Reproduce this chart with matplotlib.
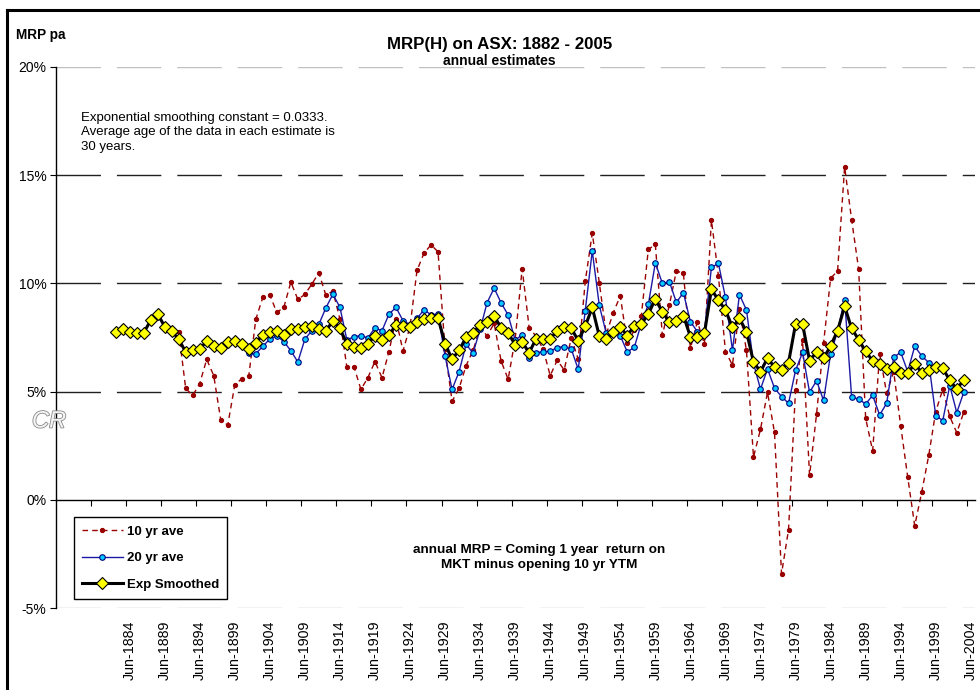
import numpy as np
import matplotlib.pyplot as plt
import matplotlib.patheffects as pe
from matplotlib.lines import Line2D

plt.rcParams['font.family'] = ['Liberation Sans', 'DejaVu Sans']

nan = np.nan

# one estimate per year, Jun-1882 .. Jun-2003
years = np.arange(1882, 2004)

exp_smoothed = [
    7.77, 7.89, 7.74, 7.71, 7.71, 8.29, 8.60, 8.00, 7.80, 7.42,
    6.83, 6.92, 6.98, 7.32, 7.12, 7.03, 7.28, 7.34, 7.22, 6.97,
    7.26, 7.63, 7.77, 7.78, 7.63, 7.91, 7.89, 8.00, 8.03, 7.88,
    7.82, 8.25, 7.92, 7.20, 7.06, 7.02, 7.22, 7.58, 7.37, 7.60,
    8.09, 8.05, 7.98, 8.23, 8.34, 8.38, 8.40, 7.22, 6.50, 6.90,
    7.51, 7.71, 8.09, 8.20, 8.49, 7.95, 7.71, 7.17, 7.28, 6.80,
    7.45, 7.45, 7.45, 7.80, 7.97, 7.92, 7.36, 8.02, 8.89, 7.57,
    7.42, 7.75, 7.98, 7.58, 8.05, 8.12, 8.58, 9.28, 8.68, 8.22,
    8.25, 8.51, 7.54, 7.54, 7.69, 9.72, 9.23, 8.77, 7.97, 8.38,
    7.77, 6.37, 5.92, 6.55, 6.13, 6.02, 6.34, 8.12, 8.12, 6.43,
    6.83, 6.54, 7.11, 7.82, 8.94, 7.92, 7.40, 6.86, 6.42, 6.26,
    6.06, 6.15, 5.88, 5.85, 6.29, 5.88, 6.00, 6.15, 6.08, 5.52,
    5.12, 5.54,
]

ten_yr = [nan] * 9 + [
    7.77, 5.15, 4.82, 5.37, 6.49, 5.74, 3.70, 3.45, 5.30, 5.60,
    5.72, 8.34, 9.35, 9.46, 8.66, 8.89, 10.06, 9.26, 9.49, 9.97,
    10.49, 9.45, 9.65, 8.35, 6.12, 6.15, 5.10, 5.65, 6.39, 5.64,
    6.85, 8.35, 6.88, 8.00, 10.60, 11.40, 11.78, 11.46, 6.95, 4.55,
    5.15, 6.20, 6.90, 7.95, 7.58, 8.15, 6.41, 5.57, 7.42, 10.68,
    7.95, 7.55, 6.96, 5.74, 6.45, 6.00, 7.48, 6.50, 10.09, 12.32,
    10.04, 7.65, 8.65, 9.42, 7.23, 7.85, 8.50, 11.57, 11.80, 7.60,
    9.00, 10.58, 10.46, 7.00, 8.23, 7.20, 12.92, 10.34, 6.85, 6.23,
    8.80, 6.90, 1.97, 3.26, 4.97, 3.11, -3.42, -1.38, 5.09, 7.38,
    1.13, 3.97, 7.25, 10.23, 10.58, 15.38, 12.95, 10.66, 3.77, 2.26,
    6.74, 4.92, 5.92, 3.42, 1.05, -1.20, 0.35, 2.05, 4.08, 5.10,
    3.85, 3.10, 4.05,
]

twenty_yr = [nan] * 19 + [
    6.77, 6.75, 7.09, 7.43, 7.57, 7.31, 6.89, 6.37, 7.42, 7.82,
    8.11, 8.87, 9.50, 8.90, 7.38, 7.54, 7.58, 7.48, 7.95, 7.81,
    8.58, 8.89, 8.28, 8.10, 8.38, 8.78, 8.55, 8.58, 6.65, 5.10,
    5.92, 7.18, 6.78, 7.88, 9.11, 9.78, 9.10, 8.54, 7.38, 7.62,
    6.54, 6.80, 6.84, 6.87, 7.03, 7.08, 6.97, 6.03, 8.74, 11.50,
    8.99, 7.69, 7.72, 7.58, 6.83, 7.05, 8.15, 9.03, 10.95, 10.00,
    10.08, 9.12, 9.57, 8.23, 7.77, 7.77, 10.74, 10.92, 9.35, 6.91,
    9.48, 8.77, 6.31, 5.11, 6.05, 5.16, 4.77, 4.46, 5.98, 6.81,
    4.97, 5.50, 4.59, 6.74, 7.80, 9.25, 4.75, 4.65, 4.43, 4.82,
    3.92, 4.46, 6.58, 6.82, 5.92, 7.09, 6.65, 6.34, 3.89, 3.66,
    5.28, 4.03, 4.97,
]

label_years = list(range(1884, 2005, 5))
label_text = ['Jun-%d' % y for y in label_years]
y_ticks = [-5, 0, 5, 10, 15, 20]

W, H = 980, 690
fig = plt.figure(figsize=(W / 100, H / 100), dpi=100)
ax = fig.add_axes([56 / W, 1 - 608 / H, (975 - 56) / W, (608 - 67) / H])

# dashed horizontal grid, the outer two are light grey
for v in y_ticks:
    if v == 0:
        continue
    col = '#c0c0c0' if v in (20, -5) else '#202020'
    ax.axhline(v, color=col, lw=1, ls=(0, (32, 11.5)), zorder=0)

ax.plot(years, ten_yr, color='#990000', lw=1, ls=(0, (4, 3)),
        marker='o', ms=2.8, mfc='#990000', mec='#990000', label='10 yr ave')
ax.plot(years, twenty_yr, color='#1a1aa6', lw=1,
        marker='o', ms=4, mfc='#00ccff', mec='#000080', mew=0.8, label='20 yr ave')
ax.plot(years, exp_smoothed, color='black', lw=2.2,
        marker='D', ms=6, mfc='#ffff00', mec='black', mew=0.8, label='Exp Smoothed')

ax.set_xlim(1873.5, 2004.6)
ax.set_ylim(-5, 20)

for s in ('top', 'right'):
    ax.spines[s].set_visible(False)
ax.spines['bottom'].set_position(('data', 0))
ax.spines['bottom'].set_linewidth(1)
ax.spines['left'].set_linewidth(1)

ax.set_xticks(np.arange(1878.5, 2004, 5))
ax.tick_params(axis='x', direction='out', length=4, width=0.8, labelbottom=False)
ax.set_yticks(y_ticks, labels=['%d%%' % v for v in y_ticks])
ax.tick_params(axis='y', direction='out', length=4, width=0.8, pad=3, labelsize=10)

sec = ax.secondary_xaxis('bottom')
sec.set_xticks(label_years, labels=label_text, rotation=90)
sec.tick_params(length=0, pad=9, labelsize=10.3)
sec.spines['bottom'].set_visible(False)

fig.text(16 / W, 1 - 35 / H, 'MRP pa', weight='bold', fontsize=9.8, va='center')
fig.text(500 / W, 1 - 44 / H, 'MRP(H) on ASX: 1882 - 2005', ha='center', va='center',
         weight='bold', fontsize=12.2)
fig.text(499 / W, 1 - 61 / H, 'annual estimates', ha='center', va='center',
         weight='bold', fontsize=10)
fig.text(81 / W, 1 - 112 / H,
         'Exponential smoothing constant = 0.0333.\n'
         'Average age of the data in each estimate is\n30 years.',
         va='top', fontsize=9.5, linespacing=1.27)
fig.text(539 / W, 1 - 557.5 / H,
         'annual MRP = Coming 1 year  return on\nMKT minus opening 10 yr YTM',
         ha='center', va='center', weight='bold', fontsize=9.7, linespacing=1.4)
fig.text(49 / W, 1 - 421 / H, 'CR', ha='center', va='center', fontsize=17,
         style='italic', color='#f4f4f4',
         path_effects=[pe.Stroke(linewidth=1.2, foreground='#8a8a8a'), pe.Normal()])

leg = ax.legend(loc='lower left', bbox_to_anchor=(74 / W, 1 - 599 / H),
                bbox_transform=fig.transFigure, fancybox=False, edgecolor='black',
                framealpha=1, prop={'weight': 'bold', 'size': 9.5},
                handlelength=3.1, handletextpad=0.3, labelspacing=1.1,
                borderpad=0.6, borderaxespad=0)
leg.get_frame().set_linewidth(1)

# chart area border (top and left edges are inside the picture)
fig.add_artist(Line2D([7 / W, 1], [1 - 10 / H] * 2, color='black', lw=2.2,
                      transform=fig.transFigure))
fig.add_artist(Line2D([7 / W] * 2, [0, 1 - 10 / H], color='black', lw=2.2,
                      transform=fig.transFigure))

fig.savefig('out.png', dpi=100)
